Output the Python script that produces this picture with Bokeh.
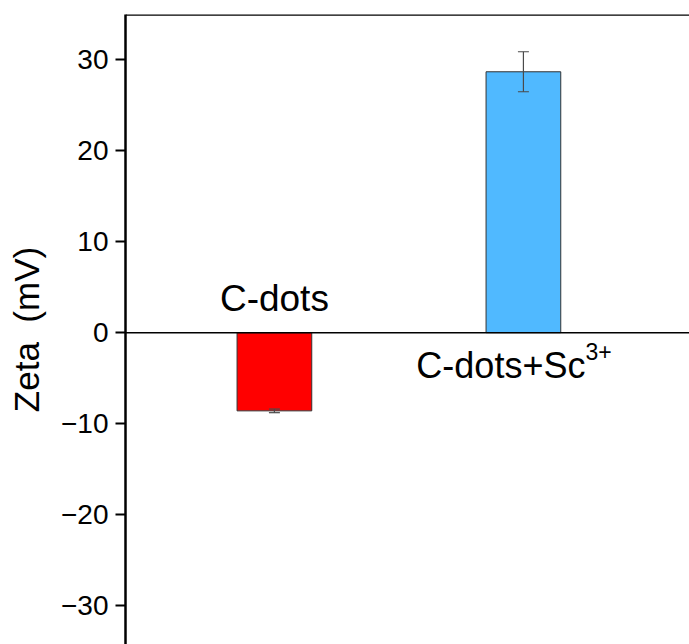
from bokeh.plotting import figure
from bokeh.models import Span, Whisker, ColumnDataSource, FixedTicker, Range1d, TeeHead
from bokeh.core.properties import value
from bokeh.embed import file_html
from bokeh.resources import INLINE

# data
categories = ["C-dots", "C-dots+Sc"]
superscripts = ["", "3+"]
positions = [1, 2]
zeta = [-8.6, 28.7]
zeta_err = [0.2, 2.2]
colors = ["#FF0000", "#50B9FF"]
y_ticks = [-30, -20, -10, 0, 10, 20, 30]

FONT = "Liberation Sans"

p = figure(width=689, height=644, output_backend="svg", toolbar_location=None,
           x_range=Range1d(0.402, 2.667), y_range=Range1d(-34.3, 35),
           x_axis_location=None, min_border_left=125, min_border_top=14,
           min_border_bottom=0, min_border_right=0)
p.outline_line_color = None
p.xgrid.visible = False
p.ygrid.visible = False
p.background_fill_color = "white"
p.border_fill_color = "white"

src = ColumnDataSource(dict(
    x=positions, top=zeta, color=colors,
    upper=[v + e for v, e in zip(zeta, zeta_err)],
    lower=[v - e for v, e in zip(zeta, zeta_err)],
))

p.vbar(x="x", top="top", bottom=0, width=0.3, fill_color="color",
       line_color="#333333", line_width=1, source=src)

w = Whisker(base="x", upper="upper", lower="lower", source=src, level="overlay",
            line_color="#4a4a4a", line_width=1.2,
            upper_head=TeeHead(size=11, line_color="#4a4a4a", line_width=1.2),
            lower_head=TeeHead(size=11, line_color="#4a4a4a", line_width=1.2))
p.add_layout(w)

p.add_layout(Span(location=0, dimension="width", line_color="black", line_width=1.6))
p.add_layout(Span(location=35, dimension="width", line_color="black", line_width=2.5))

# category labels
p.text(x=[positions[0]], y=[0], text=[categories[0]], text_align="center",
       text_baseline="alphabetic", y_offset=-34, text_font=value(FONT),
       text_font_size="37px", text_color="black")
p.text(x=[positions[1]], y=[0], text=[categories[1]], text_align="right",
       text_baseline="alphabetic", x_offset=62, y_offset=33, text_font=value(FONT),
       text_font_size="36px", text_color="black")
p.text(x=[positions[1]], y=[0], text=[superscripts[1]], text_align="left",
       text_baseline="alphabetic", x_offset=62, y_offset=19, text_font=value(FONT),
       text_font_size="23px", text_color="black")

ax = p.yaxis[0]
ax.ticker = FixedTicker(ticks=y_ticks)
ax.axis_label = "Zeta\u00a0\u00a0(mV)"
ax.axis_label_text_font = FONT
ax.axis_label_text_font_size = "35px"
ax.axis_label_text_font_style = "normal"
ax.axis_label_text_color = "black"
ax.axis_label_standoff = 12
ax.major_label_text_font = FONT
ax.major_label_text_font_size = "28px"
ax.major_label_text_color = "black"
ax.major_label_standoff = 7
ax.major_tick_out = 10
ax.major_tick_in = 0
ax.major_tick_line_width = 2
ax.minor_tick_line_color = None
ax.axis_line_width = 2.5
ax.axis_line_color = "black"
ax.major_tick_line_color = "black"

open("out.html", "w").write(file_html(p, INLINE))
